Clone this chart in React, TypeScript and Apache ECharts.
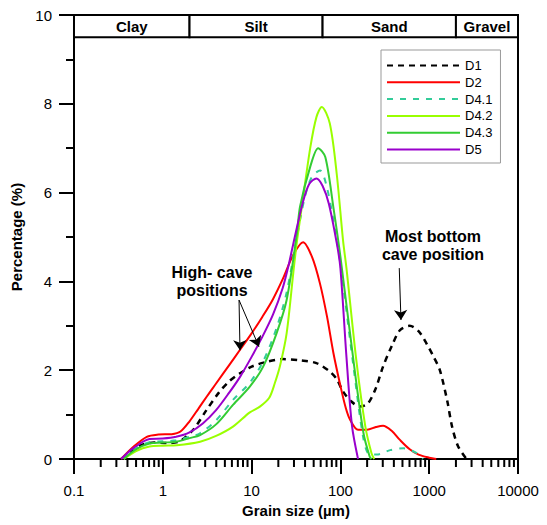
import React, { useEffect, useRef } from "react";
import * as echarts from "echarts";

// Grain size (µm) and percentage (%) readings for each sample
const d1X = [0.34, 0.47, 0.6, 0.8, 1.1, 1.55, 2.2, 3.1, 4.3, 5.6, 7.4, 10, 14.8, 22.4, 35.5, 53.7, 76, 91, 107, 132, 166, 204, 251, 302, 380, 468, 603, 759, 933, 1122, 1318, 1600, 1800, 2100, 2630];
const d1Y = [0, 0.22, 0.33, 0.37, 0.36, 0.4, 0.66, 1.1, 1.5, 1.75, 1.93, 2.08, 2.19, 2.25, 2.22, 2.16, 1.97, 1.8, 1.52, 1.3, 1.18, 1.25, 1.6, 2.08, 2.55, 2.9, 3.0, 2.88, 2.6, 2.3, 2.0, 1.3, 0.75, 0.3, 0];

const d2X = [0.34, 0.47, 0.66, 0.89, 1.26, 1.58, 2.0, 2.51, 3.16, 3.98, 5.62, 7.41, 10, 13.2, 17.4, 22.4, 29.5, 38, 47.9, 58.9, 70.8, 83.2, 100, 115, 129, 158, 200, 251, 302, 380, 468, 603, 759, 1000, 1200];
const d2Y = [0, 0.28, 0.5, 0.55, 0.56, 0.62, 0.85, 1.13, 1.42, 1.7, 2.12, 2.46, 2.83, 3.2, 3.6, 4.05, 4.6, 4.88, 4.55, 3.95, 3.2, 2.4, 1.65, 1.15, 0.88, 0.66, 0.66, 0.72, 0.75, 0.63, 0.43, 0.22, 0.1, 0.03, 0];

const d41X = [0.363, 0.501, 0.708, 1, 1.41, 2.0, 2.63, 3.98, 6.17, 9.55, 13.5, 19.1, 24.8, 32.4, 39.8, 47.9, 58.9, 70.2, 87.1, 100, 140, 182, 214, 257, 363, 513, 724, 851];
const d41Y = [0, 0.24, 0.38, 0.4, 0.42, 0.5, 0.58, 0.87, 1.33, 1.72, 2.2, 2.95, 3.75, 5.0, 5.9, 6.36, 6.5, 6.13, 5.16, 4.4, 2.1, 0.45, 0.1, 0.1, 0.2, 0.24, 0.13, 0];

const d42X = [0.363, 0.501, 0.708, 1, 1.44, 2.63, 3.98, 6.17, 9.55, 12.4, 15.8, 18.2, 20.9, 24.8, 29.5, 32.4, 36.3, 45.7, 53.7, 61.7, 75.9, 90.8, 107, 117, 151, 191, 224, 240];
const d42Y = [0, 0.18, 0.28, 0.3, 0.31, 0.39, 0.52, 0.73, 1.05, 1.18, 1.38, 1.7, 2.1, 2.83, 4.2, 4.9, 5.6, 7.0, 7.7, 7.93, 7.56, 6.43, 4.93, 4.3, 2.23, 0.73, 0.13, 0];

const d43X = [0.363, 0.501, 0.708, 1, 1.41, 2.0, 2.63, 3.98, 6.17, 9.55, 13.5, 19.1, 24.8, 32.4, 35.1, 45.7, 56.2, 67.6, 83.2, 100, 140, 182, 214, 224];
const d43Y = [0, 0.22, 0.35, 0.37, 0.39, 0.47, 0.54, 0.78, 1.22, 1.63, 2.08, 2.83, 3.58, 5.08, 5.68, 6.58, 7.0, 6.8, 5.68, 4.56, 2.23, 0.58, 0.05, 0];

const d5X = [0.34, 0.47, 0.71, 1, 1.41, 2.0, 2.82, 3.98, 5.62, 7.41, 10, 13.2, 17.4, 22.4, 26, 29.5, 38, 44.7, 53.7, 63.1, 74.1, 91.2, 100, 117, 135, 158];
const d5Y = [0, 0.25, 0.45, 0.46, 0.5, 0.6, 0.8, 1.1, 1.5, 1.85, 2.3, 2.75, 3.25, 3.85, 4.35, 4.85, 5.8, 6.2, 6.32, 6.15, 5.75, 4.85, 4.3, 2.3, 0.75, 0];

const seriesNames = ["D1", "D2", "D4.1", "D4.2", "D4.3", "D5"];

// Grain-size classes (µm boundaries) shown in the top band
const bandNames = ["Clay", "Silt", "Sand", "Gravel"];
const bandStart = [0.1, 2, 63, 2000];
const bandEnd = [2, 63, 2000, 10000];
const bandLow = 9.5;
const bandHigh = 10;

// Log-axis minor tick values
const minorTickValues = [0.2, 0.3, 0.4, 0.5, 0.6, 0.7, 0.8, 0.9, 2, 3, 4, 5, 6, 7, 8, 9, 20, 30, 40, 50, 60, 70, 80, 90, 200, 300, 400, 500, 600, 700, 800, 900, 2000, 3000, 4000, 5000, 6000, 7000, 8000, 9000];

const FONT = 'Arial, "Liberation Sans", sans-serif';

const pairs = (xs: number[], ys: number[]) => xs.map((x, i) => [x, ys[i]]);

export default function App() {
  const ref = useRef<HTMLDivElement>(null);
  useEffect(() => {
    document.body.style.margin = "0";
    const chart = echarts.init(ref.current!, null, { renderer: "svg" });
    const lineBase = (name: string, xs: number[], ys: number[], color: string, width: number, type: any) => ({
      name,
      type: "line",
      data: pairs(xs, ys),
      smooth: 0.3,
      symbol: "none",
      lineStyle: { color, width, type },
      itemStyle: { color },
      z: 3,
    });
    const arrowStyle = {
      silent: true,
      symbol: ["none", "arrow"],
      symbolSize: 10,
      lineStyle: { color: "#000", width: 1, type: "solid" },
      label: { show: false },
      emphasis: { disabled: true },
    };
    const option: any = {
      animation: false,
      grid: { left: 74, right: 29, top: 15, bottom: 66, show: true, borderColor: "#000", borderWidth: 2, outerBoundsMode: "none" },
      legend: {
        data: seriesNames,
        orient: "vertical",
        left: 381,
        top: 50,
        itemWidth: 73,
        itemHeight: 14,
        itemGap: 3.8,
        padding: [9, 8, 7, 5],
        borderColor: "#999",
        borderWidth: 1,
        backgroundColor: "#fff",
        itemStyle: { opacity: 0 },
        textStyle: { fontSize: 13, color: "#000", fontFamily: FONT },
      },
      xAxis: {
        type: "log",
        logBase: 10,
        min: 0.1,
        max: 10000,
        name: "Grain size (µm)",
        nameLocation: "middle",
        nameGap: 44,
        nameTextStyle: { fontSize: 15, fontWeight: "bold", color: "#000", fontFamily: FONT },
        axisLine: { lineStyle: { color: "#000", width: 2 } },
        axisTick: { show: true, length: 15, lineStyle: { color: "#000", width: 2 } },
        axisLabel: { fontSize: 15, color: "#000", fontFamily: FONT, margin: 24, formatter: (v: number) => String(+v.toPrecision(6)) },
        splitLine: { show: false },
      },
      yAxis: {
        type: "value",
        min: 0,
        max: 10,
        interval: 2,
        name: "Percentage (%)",
        nameLocation: "middle",
        nameGap: 50,
        nameTextStyle: { fontSize: 15, fontWeight: "bold", color: "#000", fontFamily: FONT },
        axisLine: { show: true, lineStyle: { color: "#000", width: 2 } },
        axisTick: { show: true, length: 15, lineStyle: { color: "#000", width: 2 } },
        minorTick: { show: true, splitNumber: 2, length: 8, lineStyle: { color: "#000", width: 2 } },
        axisLabel: { fontSize: 15, color: "#000", fontFamily: FONT, margin: 22 },
        splitLine: { show: false },
      },
      series: [
        {
          ...lineBase("D1", d1X, d1Y, "#000000", 2.5, [6, 5]),
          markLine: { ...arrowStyle, data: [[{ coord: [460, 4.3] }, { coord: [481, 3.13] }]] },
        },
        {
          ...lineBase("D2", d2X, d2Y, "#ff0000", 2, "solid"),
          markLine: {
            ...arrowStyle,
            data: [
              [{ coord: [7.22, 3.58] }, { coord: [7.4, 2.45] }],
              [{ coord: [7.22, 3.58] }, { coord: [12.1, 2.53] }],
            ],
          },
        },
        lineBase("D4.1", d41X, d41Y, "#33cc99", 2, [6, 7]),
        lineBase("D4.2", d42X, d42Y, "#99ff00", 2, "solid"),
        lineBase("D4.3", d43X, d43Y, "#33cc33", 2, "solid"),
        lineBase("D5", d5X, d5Y, "#9900cc", 2, "solid"),
        {
          name: "band",
          type: "custom",
          clip: false,
          silent: true,
          z: 5,
          data: bandNames.map((_, i) => [bandStart[i], bandEnd[i], bandLow, bandHigh]),
          encode: { x: [0, 1], y: [2, 3] },
          renderItem: (params: any, api: any) => {
            const p1 = api.coord([api.value(0), api.value(3)]);
            const p2 = api.coord([api.value(1), api.value(2)]);
            return {
              type: "group",
              children: [
                { type: "rect", shape: { x: p1[0], y: p1[1], width: p2[0] - p1[0], height: p2[1] - p1[1] }, style: { fill: "#fff", stroke: "#000", lineWidth: 2 } },
                {
                  type: "text",
                  x: (p1[0] + p2[0]) / 2,
                  y: (p1[1] + p2[1]) / 2,
                  style: { text: bandNames[params.dataIndex], align: "center", verticalAlign: "middle", fontSize: 15, fontWeight: "bold", fontFamily: FONT, fill: "#000" },
                },
              ],
            };
          },
        },
        {
          name: "minorTicks",
          type: "custom",
          clip: false,
          silent: true,
          data: minorTickValues.map((v) => [v, 0]),
          encode: { x: 0, y: 1 },
          renderItem: (params: any, api: any) => {
            const p = api.coord([api.value(0), 0]);
            return { type: "line", shape: { x1: p[0], y1: p[1], x2: p[0], y2: p[1] + 8 }, style: { stroke: "#000", lineWidth: 2 } };
          },
        },
      ],
      graphic: [
        {
          type: "text",
          x: 212,
          y: 281,
          style: { text: "High- cave\npositions", align: "center", verticalAlign: "middle", fontSize: 16, lineHeight: 18, fontWeight: "bold", fontFamily: FONT, fill: "#000" },
        },
        {
          type: "text",
          x: 433,
          y: 245,
          style: { text: "Most bottom\ncave position", align: "center", verticalAlign: "middle", fontSize: 16, lineHeight: 18, fontWeight: "bold", fontFamily: FONT, fill: "#000" },
        },
      ],
    };
    chart.setOption(option);
    return () => chart.dispose();
  }, []);
  return <div ref={ref} style={{ width: 547, height: 525 }} />;
}
